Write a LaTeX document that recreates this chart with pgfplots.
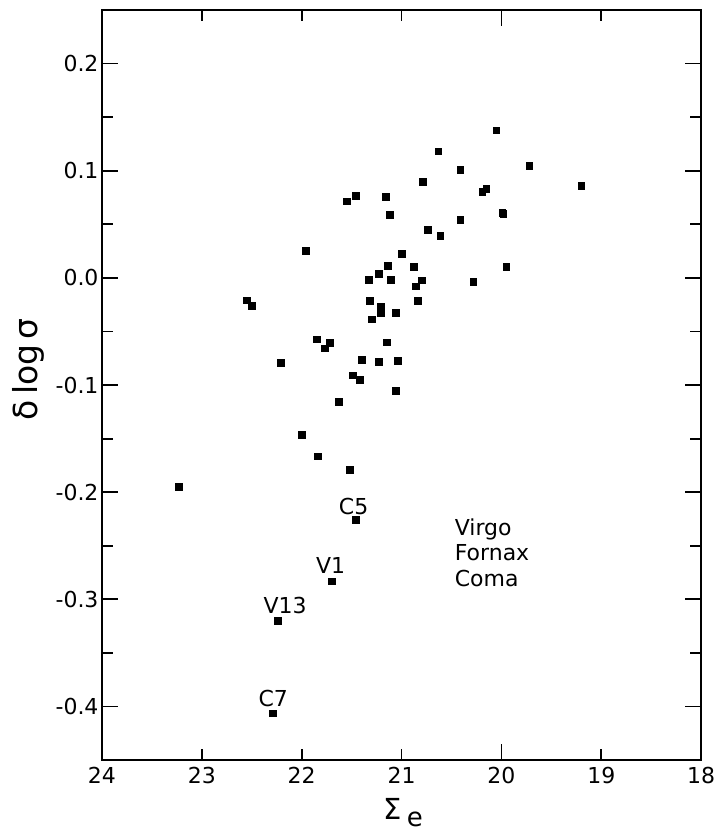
\documentclass[border=0pt]{standalone}
\usepackage{fontspec}
\setmainfont{DejaVu Sans}
\usepackage{pgfplots}
\pgfplotsset{compat=1.18}
\usetikzlibrary{calc}

\begin{document}
\begin{tikzpicture}
\begin{axis}[
    name=ax,
    scale only axis,
    width=300pt, height=375.5pt,
    x dir=reverse,
    xmin=18, xmax=24, ymin=-0.45, ymax=0.25,
    axis line style={line width=1pt},
    every tick/.style={black, line width=0.9pt},
    tick align=inside,
    major tick length=8pt, minor tick length=5.5pt,
    xtick={20}, xticklabels={20},
    extra x ticks={18,19,21,22,23,24},
    extra x tick labels={18,19,21,22,23,24},
    extra tick style={major tick length=5.5pt},
    ytick={-0.4,-0.3,-0.2,-0.1,0,0.1,0.2},
    yticklabels={-0.4,-0.3,-0.2,-0.1,0.0,0.1,0.2},
    minor y tick num=1,
    tick label style={font=\fontsize{11}{13}\selectfont},
    yticklabel style={inner xsep=1.5pt},
    xlabel={\fontsize{14.5}{16}\selectfont Σ\,\raisebox{-3.5pt}{\fontsize{13}{15}\selectfont e}},
    xlabel style={at={(axis description cs:0.503,-0.0706)}, anchor=center},
    ylabel={\fontsize{16.5}{19}\selectfont δ\,log\,σ},
    ylabel style={at={(axis description cs:-0.122,0.521)}, anchor=center},
]
\addplot[only marks, mark=square*, mark size=1.7pt, black] coordinates {
  (23.23,-0.195) (22.55,-0.021) (22.50,-0.026) (22.21,-0.0795)
  (21.96,0.0255) (22.00,-0.1466) (21.85,-0.0574) (21.77,-0.0658)
  (21.72,-0.061) (21.84,-0.1665) (21.63,-0.1156) (21.55,0.0714)
  (21.46,0.0768) (21.52,-0.179) (21.49,-0.091) (21.42,-0.095)
  (21.40,-0.0764) (21.46,-0.226) (21.70,-0.2833) (22.24,-0.3197)
  (22.29,-0.4063) (21.33,-0.0015) (21.32,-0.0217) (21.30,-0.0388)
  (21.23,0.0041) (21.21,-0.0273) (21.21,-0.0326) (21.23,-0.0783)
  (21.16,0.0758) (21.12,0.059) (21.14,0.0109) (21.11,-0.0015)
  (21.15,-0.0602) (21.06,-0.0323) (21.04,-0.0776) (21.06,-0.1053)
  (21.00,0.0224) (20.88,0.0106) (20.80,-0.0024) (20.86,-0.008)
  (20.84,-0.0214) (20.79,0.0898) (20.74,0.045) (20.63,0.118)
  (20.61,0.0395) (20.41,0.101) (20.41,0.0544) (20.28,-0.0034)
  (20.19,0.0805) (20.15,0.0833) (20.05,0.1377) (19.99,0.061)
  (19.98,0.060) (19.95,0.010) (19.72,0.1048) (19.20,0.0855)
};
% named objects
\node[anchor=base, font=\fontsize{11}{13}\selectfont] at (axis cs:21.48,-0.2204) {C5};
\node[anchor=base, font=\fontsize{11}{13}\selectfont] at (axis cs:21.71,-0.2762) {V1};
\node[anchor=base, font=\fontsize{11}{13}\selectfont] at (axis cs:22.165,-0.3135) {V13};
\node[anchor=base, font=\fontsize{11}{13}\selectfont] at (axis cs:22.285,-0.4002) {C7};
% cluster key
\node[anchor=base west, inner sep=0pt, font=\fontsize{11}{13}\selectfont] at (axis cs:20.47,-0.2408) {Virgo};
\node[anchor=base west, inner sep=0pt, font=\fontsize{11}{13}\selectfont] at (axis cs:20.47,-0.2640) {Fornax};
\node[anchor=base west, inner sep=0pt, font=\fontsize{11}{13}\selectfont] at (axis cs:20.47,-0.2883) {Coma};
\end{axis}
\path ($(ax.south west)+(-51pt,-36.5pt)$) rectangle ($(ax.north east)+(7pt,5pt)$);
\end{tikzpicture}
\end{document}
